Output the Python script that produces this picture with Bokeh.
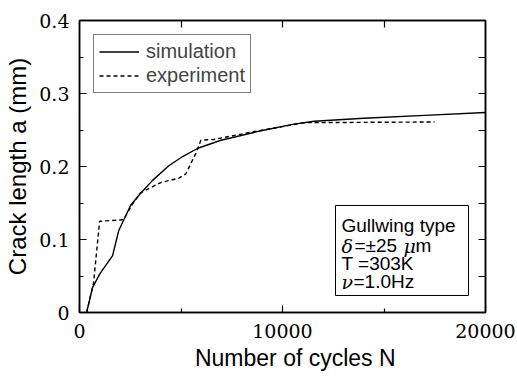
from bokeh.plotting import figure
from bokeh.models import LinearAxis, Range1d, FixedTicker, Label, BoxAnnotation, Legend, LegendItem
from bokeh.embed import file_html
from bokeh.resources import INLINE

sim_N = [350, 640, 1000, 1630, 1930, 2520, 3000, 3600, 4400, 5100, 5830, 6970, 8940, 10570, 11560, 14000, 17000, 20000]
sim_a = [0.0, 0.034, 0.053, 0.078, 0.112, 0.147, 0.163, 0.181, 0.201, 0.214, 0.225, 0.236, 0.249, 0.258, 0.262, 0.266, 0.270, 0.274]

exp_N = [350, 690, 990, 2170, 2620, 3010, 4000, 4900, 5240, 5730, 5980, 6620, 8450, 10270, 11000, 17490]
exp_a = [0.0, 0.040, 0.125, 0.127, 0.149, 0.164, 0.178, 0.184, 0.190, 0.218, 0.236, 0.237, 0.247, 0.256, 0.260, 0.261]

x_ticks = [0, 10000, 20000]
y_ticks = [0, 0.1, 0.2, 0.3, 0.4]

SERIF = "DejaVu Serif"
SANS = "Liberation Sans"

p = figure(width=517, height=377, output_backend="svg", toolbar_location=None,
           x_range=Range1d(0, 20000), y_range=Range1d(0, 0.4),
           min_border_left=79, min_border_right=32, min_border_top=20, min_border_bottom=65)
p.xgrid.visible = False
p.ygrid.visible = False
p.outline_line_color = "black"
p.outline_line_width = 1.5

def style(ax):
    ax.axis_line_color = "black"
    ax.axis_line_width = 1.5
    ax.major_tick_in = 7
    ax.major_tick_out = 0
    ax.minor_tick_in = 4
    ax.minor_tick_out = 0
    ax.major_tick_line_width = 1.2
    ax.minor_tick_line_width = 1.2
    ax.major_label_text_font = SERIF
    ax.major_label_text_font_size = "19px"
    ax.major_label_text_color = "black"

p.xaxis.ticker = FixedTicker(ticks=x_ticks, minor_ticks=[5000, 15000])
p.yaxis.ticker = FixedTicker(ticks=y_ticks, minor_ticks=[0.05, 0.15, 0.25, 0.35])
style(p.xaxis[0])
style(p.yaxis[0])
p.yaxis.major_label_overrides = {0: "0", 0.1: "0.1", 0.2: "0.2", 0.3: "0.3", 0.4: "0.4"}
p.xaxis.major_label_standoff = 11
p.yaxis.major_label_standoff = 10
p.xaxis.axis_label = "\u00a0\u00a0\u00a0\u00a0Number of cycles N"
p.yaxis.axis_label = "Crack length a (mm)"
p.xaxis.axis_label_text_font_size = "23px"
p.yaxis.axis_label_text_font_size = "24px"
for ax in (p.xaxis[0], p.yaxis[0]):
    ax.axis_label_text_font = SANS
    ax.axis_label_text_font_style = "normal"
    ax.axis_label_text_color = "black"
p.xaxis.axis_label_standoff = 4
p.yaxis.axis_label_standoff = 5

top_ticks = [5000, 10000, 15000]
top = LinearAxis(ticker=FixedTicker(ticks=top_ticks))
style(top)
top.major_label_overrides = {t: "" for t in top_ticks}
p.add_layout(top, "above")
right_ticks = [0.05, 0.1, 0.15, 0.2, 0.25, 0.3, 0.35]
right = LinearAxis(ticker=FixedTicker(ticks=right_ticks))
style(right)
right.major_label_overrides = {t: "" for t in right_ticks}
p.add_layout(right, "right")

r_sim = p.line(sim_N, sim_a, line_color="black", line_width=1.4)
r_exp = p.line(exp_N, exp_a, line_color="black", line_width=1.4, line_dash="4 3")

legend = Legend(items=[LegendItem(label="simulation", renderers=[r_sim]),
                       LegendItem(label="experiment", renderers=[r_exp])],
                location=(14, 219))
legend.border_line_color = "black"
legend.border_line_width = 1
legend.background_fill_alpha = 1
legend.label_text_font = SANS
legend.label_text_font_size = "20px"
legend.glyph_width = 40
legend.glyph_height = 23
legend.label_height = 23
legend.padding = 5
legend.spacing = 1
legend.margin = 0
legend.label_standoff = 7
p.add_layout(legend, "center")

box = BoxAnnotation(left=12611, right=19163, bottom=0.0233, top=0.1466,
                    fill_alpha=0, line_color="black", line_width=1, line_alpha=1)
p.add_layout(box)

FL, FB = 79, 312  # frame left / bottom in page pixels

def note(x, y, text, font=SANS, style="normal", size="19px", align="left"):
    p.add_layout(Label(x=x - FL, y=FB - y, x_units="screen", y_units="screen",
                       text=text, text_font=font, text_font_size=size, text_font_style=style,
                       text_baseline="middle", text_align=align, text_color="black"))

note(341, 225, "Gullwing type")
note(341, 245, "δ", SERIF, "italic")
note(354, 245, "=±25")
note(403, 245, "μ", SERIF, "italic")
note(415, 245, "m")
note(341, 263, "T =303K")
note(341, 281, "ν", SERIF, "italic")
note(353, 281, "=1.0Hz")

html = file_html(p, INLINE)
open("out.html", "w").write(html)
